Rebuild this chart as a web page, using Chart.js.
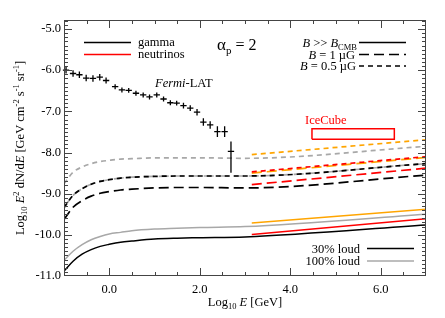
<!DOCTYPE html>
<html><head><meta charset="utf-8">
<script src="https://cdn.jsdelivr.net/npm/chart.js@4/dist/chart.umd.min.js"></script>
<style>html,body{margin:0;padding:0;background:#fff}#wrap{width:445px;height:318px}</style>
</head><body><div id="wrap"><canvas id="c" width="445" height="318"></canvas></div>
<script>
// ---- data (log10 values) ----
const curveX = [-1, -0.8, -0.6, -0.4, -0.2, 0, 0.25, 0.5, 1.0, 1.5, 2.0, 3.0, 7.0];
const gammaSolid30  = [-10.88, -10.64, -10.47, -10.36, -10.28, -10.23, -10.18, -10.15, -10.10, -10.08, -10.07, -10.05, -9.76];
const gammaSolid100 = [-10.62, -10.40, -10.24, -10.12, -10.04, -9.98, -9.94, -9.90, -9.86, -9.84, -9.82, -9.80, -9.50];
const gammaB1_30    = [-9.63, -9.33, -9.17, -9.06, -8.99, -8.95, -8.91, -8.89, -8.86, -8.85, -8.85, -8.86, -8.55];
const gammaB1_100   = [-9.34, -9.04, -8.88, -8.77, -8.70, -8.66, -8.62, -8.60, -8.58, -8.57, -8.57, -8.57, -8.27];
const gammaB05_30   = [-9.34, -9.04, -8.88, -8.77, -8.70, -8.66, -8.62, -8.60, -8.58, -8.57, -8.57, -8.57, -8.27];
const gammaB05_100  = [-8.76, -8.48, -8.35, -8.27, -8.22, -8.19, -8.16, -8.15, -8.13, -8.13, -8.13, -8.14, -7.85];

const nuX = [3.15, 7.0];
const nuSolid30  = [-9.99, -9.61];
const nuSolid100 = [-9.71, -9.38];
const nuB1_30    = [-8.78, -8.38];
const nuB1_100   = [-8.50, -8.12];
const nuB05_30   = [-8.47, -8.10];
const nuB05_100  = [-8.05, -7.69];

const fermiX  = [-0.955, -0.80, -0.66, -0.51, -0.36, -0.21, -0.07, 0.13, 0.28, 0.43, 0.59, 0.75, 0.89, 1.05, 1.20, 1.35, 1.49, 1.64, 1.79, 1.94, 2.08, 2.23, 2.39, 2.55, 2.69];
const fermiY  = [-6.00, -6.08, -6.11, -6.19, -6.20, -6.17, -6.25, -6.40, -6.48, -6.49, -6.56, -6.60, -6.65, -6.60, -6.70, -6.79, -6.80, -6.86, -6.92, -7.02, -7.26, -7.33, -7.49, -7.49, -7.97];
const fermiErrLo = [0.08, 0.08, 0.08, 0.08, 0.08, 0.08, 0.07, 0.06, 0.06, 0.06, 0.06, 0.06, 0.06, 0.06, 0.06, 0.06, 0.06, 0.07, 0.07, 0.08, 0.09, 0.09, 0.13, 0.13, 0.52];
const fermiErrHi = [0.08, 0.08, 0.08, 0.08, 0.08, 0.08, 0.07, 0.06, 0.06, 0.06, 0.06, 0.06, 0.06, 0.06, 0.06, 0.06, 0.06, 0.07, 0.07, 0.08, 0.09, 0.09, 0.13, 0.13, 0.24];
const fermiBinHalf = 0.07;

const iceCubeE = [4.48, 6.30];
const iceCubeFlux = [-7.68, -7.42];

const xTicks = [0, 2, 4, 6];
const yTicks = [-11, -10, -9, -8, -7, -6, -5];

// ---- helpers ----
const pts = (xs, ys) => xs.map((x, i) => ({x, y: ys[i]}));
const BLACK = '#000000', GRAY = '#a8a8a8', RED = '#ff0000', ORANGE = '#ffa500';
const LONG = [10, 5], SHORT = [5, 4];
const SERIF = '"Liberation Serif", "Times New Roman", serif';

function ds(data, color, dash, w) {
  return {data, borderColor: color, borderDash: dash || [], borderWidth: w || 1.5,
    pointRadius: 0, fill: false, cubicInterpolationMode: 'monotone', showLine: true};
}
const box = [
  {x: iceCubeE[0], y: iceCubeFlux[0]}, {x: iceCubeE[1], y: iceCubeFlux[0]},
  {x: iceCubeE[1], y: iceCubeFlux[1]}, {x: iceCubeE[0], y: iceCubeFlux[1]},
  {x: iceCubeE[0], y: iceCubeFlux[0]}];

const datasets = [
  ds(pts(nuX, nuB05_30), RED, SHORT, 1.7),
  ds(pts(nuB1_100.map((v,i)=>nuX[i]), nuB1_100), ORANGE, LONG, 1.7),
  ds(pts(nuX, nuB05_100), ORANGE, SHORT, 1.7),
  ds(pts(nuX, nuB1_30), RED, LONG, 1.7),
  ds(pts(nuX, nuSolid30), RED, null, 1.5),
  ds(pts(nuX, nuSolid100), ORANGE, null, 1.5),
  ds(pts(curveX, gammaSolid30), BLACK, null, 1.5),
  ds(pts(curveX, gammaSolid100), GRAY, null, 1.5),
  ds(pts(curveX, gammaB1_30), BLACK, LONG, 1.7),
  ds(pts(curveX, gammaB05_30), BLACK, SHORT, 1.7),
  ds(pts(curveX, gammaB1_100), GRAY, LONG, 1.7),
  ds(pts(curveX, gammaB05_100), GRAY, SHORT, 1.7),
  Object.assign(ds(box, RED, null, 1.5), {cubicInterpolationMode: 'default', tension: 0}),
  {data: pts(fermiX, fermiY), showLine: false, pointRadius: 0, borderColor: BLACK}
];

function font(size, italic) { return (italic ? 'italic ' : '') + size + 'px ' + SERIF; }
// segments: [text, size, italic, dy]
function rich(ctx, segs, x, y, align) {
  let w = 0;
  segs.forEach(s => { ctx.font = font(s[1], s[2]); w += ctx.measureText(s[0]).width; });
  let cx = align === 'right' ? x - w : align === 'center' ? x - w / 2 : x;
  ctx.textAlign = 'left'; ctx.textBaseline = 'alphabetic';
  segs.forEach(s => { ctx.font = font(s[1], s[2]); ctx.fillText(s[0], cx, y + (s[3] || 0)); cx += ctx.measureText(s[0]).width; });
}
function hline(ctx, x0, x1, y, color, dash) {
  ctx.save(); ctx.strokeStyle = color; ctx.lineWidth = 1.6; ctx.setLineDash(dash || []);
  ctx.beginPath(); ctx.moveTo(x0, y); ctx.lineTo(x1, y); ctx.stroke(); ctx.restore();
}

const deco = {
  id: 'deco',
  afterDatasetsDraw(chart) {
    const ctx = chart.ctx, xs = chart.scales.x, ys = chart.scales.y;
    // Fermi crosses with error bars
    ctx.save(); ctx.strokeStyle = BLACK; ctx.lineWidth = 1.3;
    fermiX.forEach((x, i) => {
      const px = xs.getPixelForValue(x), py = ys.getPixelForValue(fermiY[i]);
      ctx.beginPath();
      ctx.moveTo(xs.getPixelForValue(x - fermiBinHalf), py); ctx.lineTo(xs.getPixelForValue(x + fermiBinHalf), py);
      ctx.moveTo(px, ys.getPixelForValue(fermiY[i] - fermiErrLo[i])); ctx.lineTo(px, ys.getPixelForValue(fermiY[i] + fermiErrHi[i]));
      ctx.stroke();
    });
    ctx.restore();
  },
  afterDraw(chart) {
    const ctx = chart.ctx, a = chart.chartArea, xs = chart.scales.x, ys = chart.scales.y;
    ctx.save();
    // frame
    ctx.strokeStyle = '#444'; ctx.lineWidth = 1;
    ctx.strokeRect(Math.round(a.left) + 0.5, Math.round(a.top) + 0.5, Math.round(a.right - a.left) - 1, Math.round(a.bottom - a.top) - 1);
    // ticks
    ctx.beginPath();
    for (let k = -2; k <= 14; k++) {
      const v = k / 2; if (v <= xs.min || v >= xs.max) continue;
      const p = Math.round(xs.getPixelForValue(v)) + 0.5, L = (v % 2 === 0) ? 8 : 4;
      ctx.moveTo(p, a.bottom); ctx.lineTo(p, a.bottom - L);
      ctx.moveTo(p, a.top); ctx.lineTo(p, a.top + L);
    }
    for (let k = -110; k <= -48; k++) {
      const v = k / 10; if (v <= ys.min + 1e-9 || v >= ys.max) continue;
      const p = Math.round(ys.getPixelForValue(v)) + 0.5, L = (k % 10 === 0) ? 8 : 4;
      ctx.moveTo(a.left, p); ctx.lineTo(a.left + L, p);
      ctx.moveTo(a.right, p); ctx.lineTo(a.right - L, p);
    }
    ctx.stroke();

    ctx.fillStyle = '#000';
    // axis titles
    rich(ctx, [['Log', 12.5], ['10', 8.5, false, 3], [' ', 12.5], ['E', 12.5, true], [' [GeV]', 12.5]], (a.left + a.right) / 2, 306, 'center');
    ctx.save(); ctx.translate(24, (a.top + a.bottom) / 2); ctx.rotate(-Math.PI / 2);
    rich(ctx, [['Log', 12.5], ['10', 8.5, false, 3], [' ', 12.5], ['E', 12.5, true], ['2', 8.5, false, -5], [' dN/d', 12.5], ['E', 12.5, true],
      [' [GeV cm', 12.5], ['-2', 8.5, false, -5], [' s', 12.5], ['-1', 8.5, false, -5], [' sr', 12.5], ['-1', 8.5, false, -5], [']', 12.5]], 0, 0, 'center');
    ctx.restore();

    // top-left legend
    hline(ctx, 84, 131, 42.5, BLACK); hline(ctx, 84, 131, 54.5, RED);
    rich(ctx, [['gamma', 12.5]], 138, 46); rich(ctx, [['neutrinos', 12.5]], 138, 58);
    // alpha
    rich(ctx, [['\u03B1', 17], ['p', 11, false, 4], [' = 2', 16]], 217, 50);
    // Fermi-LAT
    rich(ctx, [['Fermi', 12.5, true], ['-LAT', 12.5]], 155, 87);
    // top-right legend
    rich(ctx, [['B', 12.5, true], [' >> ', 12.5], ['B', 12.5, true], ['CMB', 8.5, false, 3]], 357, 46.5, 'right');
    rich(ctx, [['B', 12.5, true], [' = 1 \u00B5G', 12.5]], 355, 58.5, 'right');
    rich(ctx, [['B', 12.5, true], [' = 0.5 \u00B5G', 12.5]], 356, 70, 'right');
    hline(ctx, 359, 406, 42.5, BLACK); hline(ctx, 359, 406, 54.5, BLACK, LONG); hline(ctx, 359, 406, 66, BLACK, SHORT);
    // IceCube
    ctx.fillStyle = RED; rich(ctx, [['IceCube', 12.5]], 305, 123.5); ctx.fillStyle = '#000';
    // bottom-right legend
    rich(ctx, [['30% loud', 12.5]], 360, 252.5, 'right');
    rich(ctx, [['100% loud', 12.5]], 360, 265, 'right');
    hline(ctx, 367, 414, 248.5, BLACK); hline(ctx, 367, 414, 261, GRAY);
    ctx.restore();
  }
};

new Chart(document.getElementById('c'), {
  type: 'line',
  data: {datasets},
  options: {
    responsive: false, animation: false, events: [],
    layout: {padding: {left: 0, top: 20, right: 19, bottom: 0}},
    plugins: {legend: {display: false}, tooltip: {enabled: false}},
    scales: {
      x: {type: 'linear', min: -1, max: 7,
        afterBuildTicks: s => { s.ticks = xTicks.map(v => ({value: v})); },
        afterFit: s => { s.height = 42; },
        ticks: {autoSkip: false, maxRotation: 0, padding: 6, color: '#000', font: {family: SERIF, size: 12.5}, callback: v => v.toFixed(1)},
        grid: {display: false, drawTicks: false}, border: {display: false}},
      y: {type: 'linear', min: -11, max: -4.78,
        afterBuildTicks: s => { s.ticks = yTicks.map(v => ({value: v})); },
        afterFit: s => { s.width = 64; },
        ticks: {autoSkip: false, padding: 3, color: '#000', font: {family: SERIF, size: 12.5}, callback: v => v.toFixed(1)},
        grid: {display: false, drawTicks: false}, border: {display: false}}
    }
  },
  plugins: [deco]
});
</script></body></html>
